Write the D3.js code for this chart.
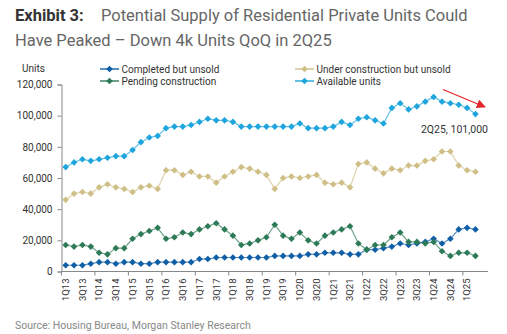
<!DOCTYPE html>
<html>
<head>
<meta charset="utf-8">
<script src="https://cdn.jsdelivr.net/npm/d3@7"></script>
<style>
  body { margin: 0; background: #fff; }
  svg { display: block; font-family: Roboto, "Noto Sans", sans-serif; }
</style>
</head>
<body>
<svg width="507" height="334"></svg>
<script>
// quarterly series, thousands of units
const quarters = [];
for (let yr = 13; yr <= 25; yr++) {
  for (let q = 1; q <= 4; q++) {
    if (yr === 25 && q > 2) break;
    quarters.push(q + "Q" + yr);
  }
}

const completedUnsold = [4,4,4,5,6,6,5,6,6,5,5,6,6,6,6,6,8,8,9,9,9,9,9,9,9,10,10,10,10,11,11,12,12,12,11,11,14,14,15,16,18,17,18,19,21,18,21,27,28,27];
const underConstruction = [46,50,51,50,54,56,54,53,51,54,55,53,65,65,62,64,61,61,57,61,64,67,66,64,62,53,60,61,60,61,62,57,56,57,54,69,70,66,63,66,65,68,68,71,72,77,77,68,65,64];
const pendingConstruction = [17,16,17,16,12,11,15,15,21,24,26,28,21,22,25,24,27,29,31,27,23,17,18,20,22,30,23,21,25,20,18,23,25,27,29,18,14,17,17,22,25,19,19,18,19,13,10,12,12,10];
const availableUnits = [67,70,72,71,72,73,74,74,78,83,86,87,92,93,93,94,96,98,97,97,96,93,93,93,93,93,93,93,95,92,92,92,93,96,94,98,99,97,95,105,108,104,106,109,112,109,108,107,105,101];

const yTicks = [0, 20000, 40000, 60000, 80000, 100000, 120000];

const series = [
  { name: "Completed but unsold", values: completedUnsold, color: "#0f5fa6" },
  { name: "Under construction but unsold", values: underConstruction, color: "#cfbf86" },
  { name: "Pending construction", values: pendingConstruction, color: "#2d7a57" },
  { name: "Available units", values: availableUnits, color: "#1fa5dd" }
];

const svg = d3.select("svg");
const plotLeft = 61.5, plotRight = 488, plotTop = 84.5, plotBottom = 271.5;

const x = d3.scaleBand()
  .domain(quarters)
  .range([plotLeft, plotLeft + (plotRight - plotLeft) * 50 / 51]);
const y = d3.scaleLinear().domain([0, 120000]).range([plotBottom, plotTop]);

// title
const title = svg.append("text").attr("y", 21).attr("font-size", 16.5);
title.append("tspan").attr("x", 15).attr("font-weight", 700).attr("fill", "#333").text("Exhibit 3:");
title.append("tspan").attr("x", 101).attr("fill", "#666").text("Potential Supply of Residential Private Units Could");
svg.append("text").attr("x", 15).attr("y", 46).attr("font-size", 16.5).attr("fill", "#666")
  .text("Have Peaked \u2013 Down 4k Units QoQ in 2Q25");

// y axis
const yAxis = svg.append("g")
  .attr("transform", `translate(${plotLeft},0)`)
  .call(d3.axisLeft(y).tickValues(yTicks).tickFormat(d3.format(",")).tickSize(4).tickPadding(5));
yAxis.select(".domain").attr("stroke", "#888");
yAxis.selectAll(".tick line").attr("stroke", "#888");
yAxis.selectAll("text").attr("font-size", 10).attr("fill", "#333").attr("font-family", "Roboto");

svg.append("text").attr("x", 22).attr("y", 72).attr("font-size", 10).attr("fill", "#333").text("Units");

// x axis
const xg = svg.append("g").attr("transform", `translate(0,${plotBottom})`);
xg.append("line").attr("x1", plotLeft).attr("x2", plotRight).attr("stroke", "#888");
xg.selectAll(".qtick")
  .data(quarters.filter(q => q.startsWith("1Q")))
  .join("line")
  .attr("x1", d => x(d)).attr("x2", d => x(d))
  .attr("y1", 0).attr("y2", 4)
  .attr("stroke", "#888");
xg.selectAll(".qlabel")
  .data(quarters.filter(q => q[0] === "1" || q[0] === "3"))
  .join("text")
  .attr("transform", d => `translate(${x(d) + x.bandwidth() / 2},7) rotate(-90)`)
  .attr("text-anchor", "end")
  .attr("dy", "0.35em")
  .attr("font-size", 9.5)
  .attr("fill", "#333")
  .text(d => d);

// lines and markers
const line = d3.line()
  .x((d, i) => x(quarters[i]) + x.bandwidth() / 2)
  .y(d => y(d * 1000));
const marker = d3.symbol().type(d3.symbolSquare).size(22);

series.forEach(s => {
  const g = svg.append("g");
  g.append("path")
    .datum(s.values)
    .attr("d", line)
    .attr("fill", "none")
    .attr("stroke", s.color)
    .attr("stroke-opacity", 0.7)
    .attr("stroke-width", 1.2);
  g.selectAll("path.pt")
    .data(s.values)
    .join("path")
    .attr("class", "pt")
    .attr("d", marker)
    .attr("transform", (d, i) => `translate(${x(quarters[i]) + x.bandwidth() / 2},${y(d * 1000)}) rotate(45)`)
    .attr("fill", s.color);
});

// legend
const legendPos = [[100, 69], [295, 69], [100, 81], [295, 81]];
series.forEach((s, i) => {
  const [lx, ly] = legendPos[i];
  const g = svg.append("g").attr("transform", `translate(${lx},${ly})`);
  g.append("line").attr("x1", 0).attr("x2", 19).attr("stroke", s.color).attr("stroke-width", 1.4);
  g.append("path").attr("d", marker).attr("transform", "translate(9.5,0) rotate(45)").attr("fill", s.color);
  g.append("text").attr("x", 21.5).attr("dy", "0.35em").attr("font-size", 10).attr("fill", "#333").text(s.name);
});

// last point callout
svg.append("defs").append("marker")
  .attr("id", "arrow").attr("viewBox", "0 0 10 10")
  .attr("refX", 9).attr("refY", 5)
  .attr("markerWidth", 7).attr("markerHeight", 7)
  .attr("orient", "auto")
  .append("path").attr("d", "M0,0L10,5L0,10z").attr("fill", "#e3262b");
svg.append("line")
  .attr("x1", 443).attr("y1", 89.5).attr("x2", 485).attr("y2", 107)
  .attr("stroke", "#e3262b").attr("stroke-width", 1.3)
  .attr("marker-end", "url(#arrow)");
svg.append("text").attr("x", 488).attr("y", 133).attr("text-anchor", "end")
  .attr("font-size", 10.5).attr("fill", "#333")
  .text("2Q25,  " + d3.format(",")(availableUnits[availableUnits.length - 1] * 1000));

// source
svg.append("text").attr("x", 15).attr("y", 329).attr("font-size", 10.5).attr("fill", "#888")
  .text("Source: Housing Bureau, Morgan Stanley Research");
</script>
</body>
</html>
